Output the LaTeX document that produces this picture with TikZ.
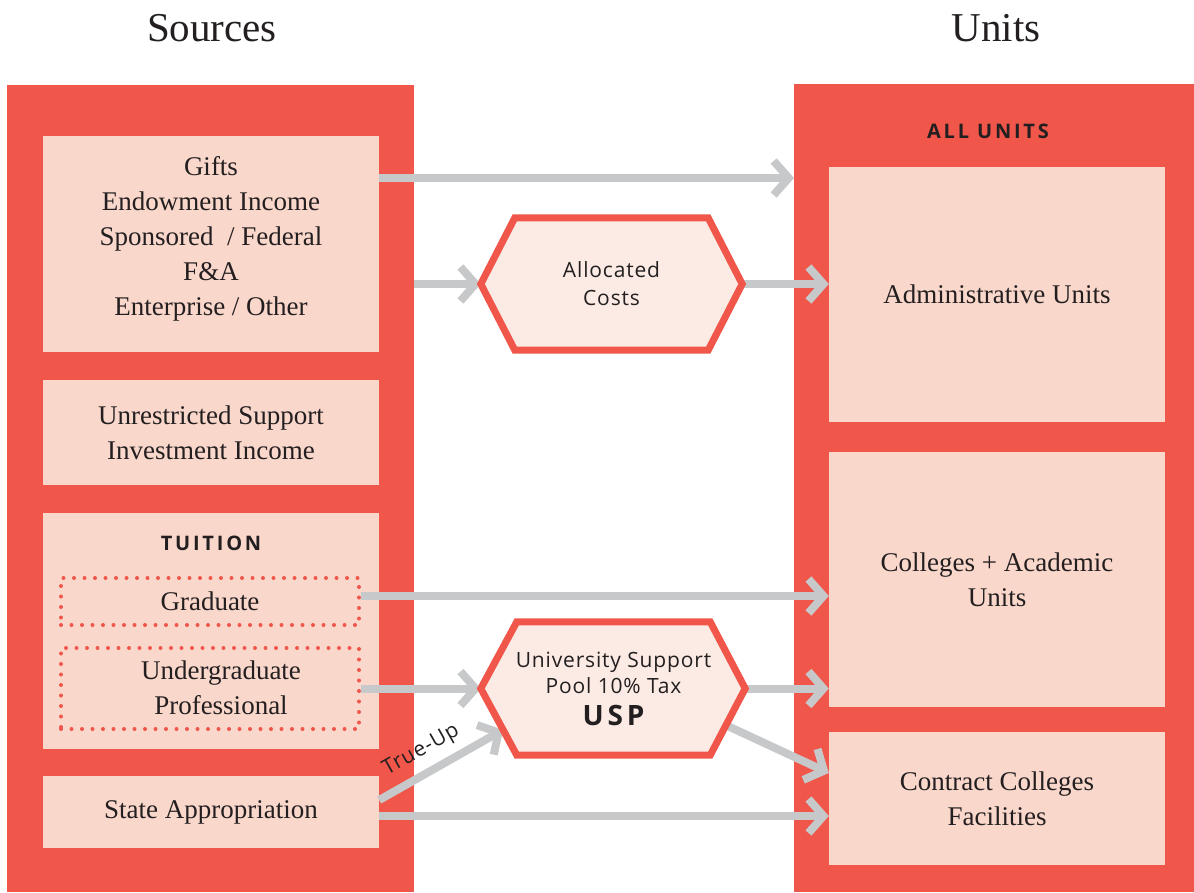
\documentclass[tikz,border=0pt]{standalone}
\usepackage{fontspec}
\usepackage{tikz}
\usetikzlibrary{arrows.meta,positioning,calc}

\setmainfont{Liberation Serif}
\newfontfamily\sansf[LetterSpace=4]{Open Sans}
\newfontfamily\capsf[LetterSpace=14]{Open Sans}

\definecolor{flowred}{RGB}{240,86,74}
\definecolor{boxpink}{RGB}{250,215,203}
\definecolor{hexpink}{RGB}{252,235,229}
\definecolor{flowgray}{RGB}{199,200,201}
\definecolor{ink}{RGB}{35,31,32}

\tikzset{
  redcol/.style={shape=rectangle,fill=flowred,inner sep=0pt},
  field/.style={shape=rectangle,fill=boxpink,inner sep=0pt,minimum width=336pt,
    text=ink,align=center,font=\fontsize{27}{35}\selectfont},
  fieldtext/.style={text=ink,align=center,inner sep=0pt,font=\fontsize{27}{35}\selectfont},
  dotbox/.style={shape=rectangle,draw=flowred,line width=4pt,line cap=round,
    dash pattern=on 0pt off 10.5pt,minimum width=298pt,inner sep=0pt,
    text=ink,align=center,font=\fontsize{27}{35}\selectfont},
  heading/.style={text=ink,font=\fontsize{41}{48}\selectfont},
  capsline/.style={text=ink,font=\capsf\bfseries\fontsize{20}{24}\selectfont},
  hexframe/.style={shape=rectangle,minimum width=193pt,inner sep=0pt},
  hextext/.style={text=ink,align=center,inner sep=0pt,font=\sansf\fontsize{21}{26}\selectfont},
  hexline/.style={draw=flowred,fill=hexpink,line width=7pt,line join=miter},
  flowarrow/.style={draw=flowgray,line width=8pt,
    -{Straight Barb[sharp,length=15pt,width=34pt]}}
}

\begin{document}
\begin{tikzpicture}[x=1pt,y=-1pt]
  \useasboundingbox (0,0) rectangle (1194,892);

  % columns
  \node[redcol,minimum width=407pt,minimum height=807pt] (lcol) at (210.5,488.5) {};
  \node[redcol,minimum width=400pt,minimum height=808pt] (rcol) at (994,488) {};

  % headings
  \node[heading] (srchead) at (212,28) {Sources};
  \node[heading] (unithead) at (996,28) {Units};

  % sources
  \node[field,minimum height=216pt] (gifts) at (211,244) {};
  \node[fieldtext] (giftslist) at (211,239)
    {Gifts\\Endowment Income\\Sponsored \ / Federal\\F\&A\\Enterprise / Other};
  \node[field,minimum height=105pt] (unres) at (211,432.5)
    {Unrestricted Support\\Investment Income};
  \node[field,minimum height=236pt] (tuition) at (211,631) {};
  \node[capsline] (tuitionhead) at (211,543) {TUITION};
  \node[dotbox,minimum height=47pt] (grad) at (210,601.5) {Graduate};
  \node[dotbox,minimum height=81pt] (ugrad) at (210,688.5) {};
  \node[fieldtext] (ugradlist) at (221,688) {Undergraduate\\Professional};
  \node[field,minimum height=72pt] (state) at (211,812) {State Appropriation};

  % units
  \node[capsline] (allhead) at (988,131) {ALL UNITS};
  \node[field,minimum height=255pt] (admin) at (997,294.5) {Administrative Units};
  \node[field,minimum height=255pt] (colleges) at (997,579.5) {Colleges + Academic\\Units};
  \node[field,minimum height=133pt] (contract) at (997,798.5) {Contract Colleges\\Facilities};

  % pools
  \node[hexframe,minimum height=132pt] (alloc) at (611.5,284) {};
  \node[hexframe,minimum height=133pt] (usp) at (613.5,688.5) {};
  \coordinate (alloc-w) at ([xshift=-34pt]alloc.west);
  \coordinate (alloc-e) at ([xshift=34pt]alloc.east);
  \coordinate (usp-w) at ([xshift=-36pt]usp.west);
  \coordinate (usp-e) at ([xshift=35pt]usp.east);

  % flows
  \coordinate (allin) at (794,178);
  \coordinate (gradout) at ([yshift=5.5pt]grad.east);
  \coordinate (trueup) at ([yshift=12pt]state.east);
  \coordinate (stateout) at ([yshift=-4pt]state.east);
  \coordinate (contractin) at ([yshift=25.5pt]contract.west);
  \draw[flowarrow] (gifts.east |- allin) -- (allin);
  \draw[flowarrow] (lcol.east |- alloc-w) -- (alloc-w);
  \draw[flowarrow] (alloc-e) -- (admin.west |- alloc-e);
  \draw[flowarrow] (gradout) -- (colleges.west |- gradout);
  \draw[flowarrow] (ugrad.east) -- (usp-w);
  \draw[flowarrow] (usp-e) -- (colleges.west |- usp-e);
  \draw[flowarrow] ($(usp-e)!0.55!(usp.south east)$) -- (contractin);
  \draw[flowarrow] (trueup) -- node[pos=0.43,sloped,above=5pt,text=ink,
    font=\sansf\fontsize{21}{26}\selectfont] (trueuplabel) {True-Up}
    ($(usp-w)!0.62!(usp.south west)$);
  \draw[flowarrow] (stateout) -- (contract.west |- stateout);

  % hexagons
  \draw[hexline] (alloc.north west) -- (alloc.north east) -- (alloc-e)
    -- (alloc.south east) -- (alloc.south west) -- (alloc-w) -- cycle;
  \draw[hexline] (usp.north west) -- (usp.north east) -- (usp-e)
    -- (usp.south east) -- (usp.south west) -- (usp-w) -- cycle;
  \node[hextext] (alloctext) at (alloc) {Allocated\\[2pt]Costs};
  \node[hextext] (usptext) at (usp)
    {University Support\\Pool 10\% Tax\\[6pt]{\capsf\bfseries\fontsize{28}{32}\selectfont USP}};
\end{tikzpicture}
\end{document}
